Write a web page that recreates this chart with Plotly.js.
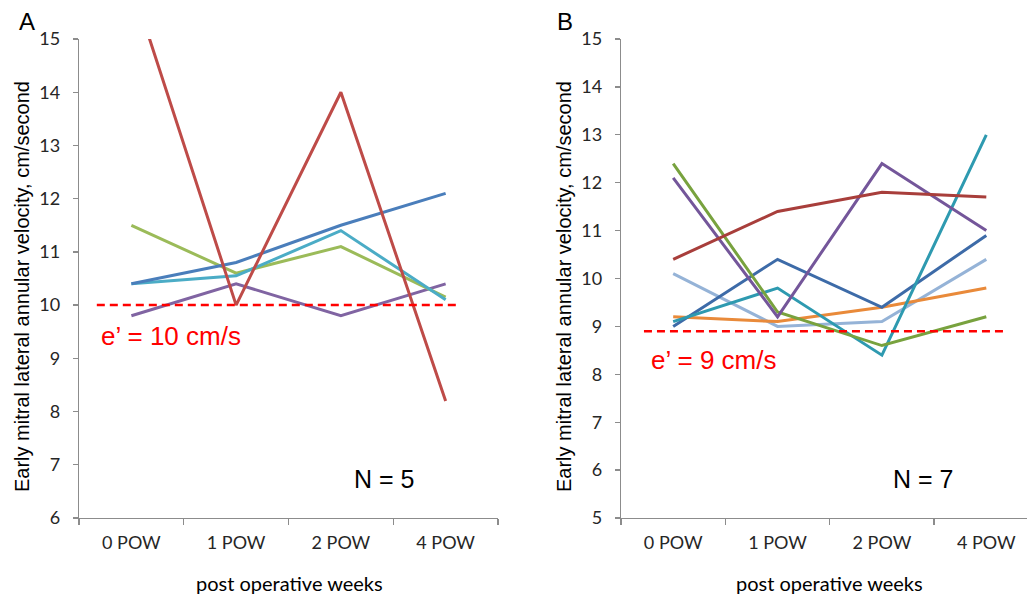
<!DOCTYPE html>
<html>
<head>
<meta charset="utf-8">
<script src="https://cdn.plot.ly/plotly-3.0.1.min.js"></script>
<style>html,body{margin:0;padding:0;background:#fff;} #chart{width:1027px;height:594px;}</style>
</head>
<body>
<div id="chart"></div>
<script>
// ---- data ----
const categories = ["0 POW", "1 POW", "2 POW", "4 POW"];

// Panel A (N = 5)
const A_red    = [16.05, 10.0, 14.0, 8.2];
const A_blue   = [10.4, 10.8, 11.5, 12.1];
const A_green  = [11.5, 10.6, 11.1, 10.15];
const A_cyan   = [10.4, 10.55, 11.4, 10.1];
const A_purple = [9.8, 10.4, 9.8, 10.4];
const A_threshold = 10;

// Panel B (N = 7)
const B_red       = [10.4, 11.4, 11.8, 11.7];
const B_purple    = [12.1, 9.2, 12.4, 11.0];
const B_green     = [12.4, 9.3, 8.6, 9.2];
const B_darkblue  = [9.0, 10.4, 9.4, 10.9];
const B_teal      = [9.1, 9.8, 8.4, 13.0];
const B_lightblue = [10.1, 9.0, 9.1, 10.4];
const B_orange    = [9.2, 9.1, 9.4, 9.8];
const B_threshold = 8.9;

const yTitle = "Early mitral lateral annular velocity, cm/second";
const xTitle = "post operative weeks";

function line(y, color, xa, ya) {
  return {x: categories, y: y, type: "scatter", mode: "lines", xaxis: xa, yaxis: ya,
          line: {color: color, width: 3}, hoverinfo: "skip", showlegend: false};
}

const traces = [
  line(A_purple, "#8064A2", "x", "y"),
  line(A_green,  "#9BBB59", "x", "y"),
  line(A_cyan,   "#4BACC6", "x", "y"),
  line(A_blue,   "#4A7EBB", "x", "y"),
  line(A_red,    "#BE4B48", "x", "y"),

  line(B_lightblue, "#95B3D7", "x2", "y2"),
  line(B_orange,    "#E98A3A", "x2", "y2"),
  line(B_darkblue,  "#3D6BA8", "x2", "y2"),
  line(B_teal,      "#2E9AB0", "x2", "y2"),
  line(B_green,     "#78A23E", "x2", "y2"),
  line(B_purple,    "#74569A", "x2", "y2"),
  line(B_red,       "#A83E3B", "x2", "y2"),
];

const tickFont = {family: "Lato, Open Sans, sans-serif", size: 18, color: "#262626"};
const axisCommon = {
  showgrid: false, zeroline: false, showline: true, linecolor: "#8c8c8c", linewidth: 1.3,
  ticks: "outside", ticklen: 6, tickcolor: "#8c8c8c", tickwidth: 1.3, tickfont: tickFont,
  fixedrange: true
};

const arial = "Liberation Sans, Arial, sans-serif";
function ann(text, px, py, size, color, extra) {
  return Object.assign({text: text, xref: "paper", yref: "paper", x: px/1027, y: 1 - py/594,
    xanchor: "center", yanchor: "middle", showarrow: false,
    font: {family: arial, size: size, color: color}}, extra || {});
}

const layout = {
  width: 1027, height: 594,
  margin: {l: 0, r: 0, t: 0, b: 0},
  paper_bgcolor: "#fff", plot_bgcolor: "#fff",
  showlegend: false,
  xaxis: Object.assign({}, axisCommon, {domain: [79/1027, 498/1027], anchor: "y",
          type: "category", range: [-0.5, 3.5], tickson: "boundaries", ticklabelstandoff: 8}),
  yaxis: Object.assign({}, axisCommon, {domain: [1 - 518/594, 1 - 39/594], anchor: "x",
          range: [6, 15], dtick: 1, ticklen: 5, ticklabelstandoff: 9}),
  xaxis2: Object.assign({}, axisCommon, {domain: [621/1027, 1], anchor: "y2",
          type: "category", range: [-0.5, 3.39], tickson: "boundaries", ticklabelstandoff: 8}),
  yaxis2: Object.assign({}, axisCommon, {domain: [1 - 518/594, 1 - 39/594], anchor: "x2",
          range: [5, 15], dtick: 1, ticklen: 5, ticklabelstandoff: 9}),
  shapes: [
    {type: "line", xref: "x", yref: "y", x0: -0.33, x1: 3.14, y0: A_threshold, y1: A_threshold,
     line: {color: "#FF0000", width: 2.5, dash: "8px,5px"}},
    {type: "line", xref: "x2", yref: "y2", x0: -0.28, x1: 3.20, y0: B_threshold, y1: B_threshold,
     line: {color: "#FF0000", width: 2.5, dash: "8px,5px"}}
  ],
  annotations: [
    ann("A", 27, 22, 24, "#000"),
    ann("B", 565, 22, 24, "#000"),
    ann(yTitle, 22, 287, 20, "#000", {textangle: -90}),
    ann(yTitle, 564, 287, 20, "#000", {textangle: -90}),
    Object.assign(ann(xTitle, 289, 583, 20, "#000"), {font: {family: "Lato, Open Sans, sans-serif", size: 20, color: "#000"}}),
    Object.assign(ann(xTitle, 829, 583, 20, "#000"), {font: {family: "Lato, Open Sans, sans-serif", size: 20, color: "#000"}}),
    ann("e\u2019 = 10 cm/s", 171, 336, 26, "#FF0000"),
    ann("e\u2019 = 9 cm/s", 713, 360, 26, "#FF0000"),
    ann("N = 5", 384, 479, 25, "#000"),
    ann("N = 7", 923, 479, 25, "#000")
  ]
};

Plotly.newPlot("chart", traces, layout, {staticPlot: true, displayModeBar: false});
</script>
</body>
</html>
